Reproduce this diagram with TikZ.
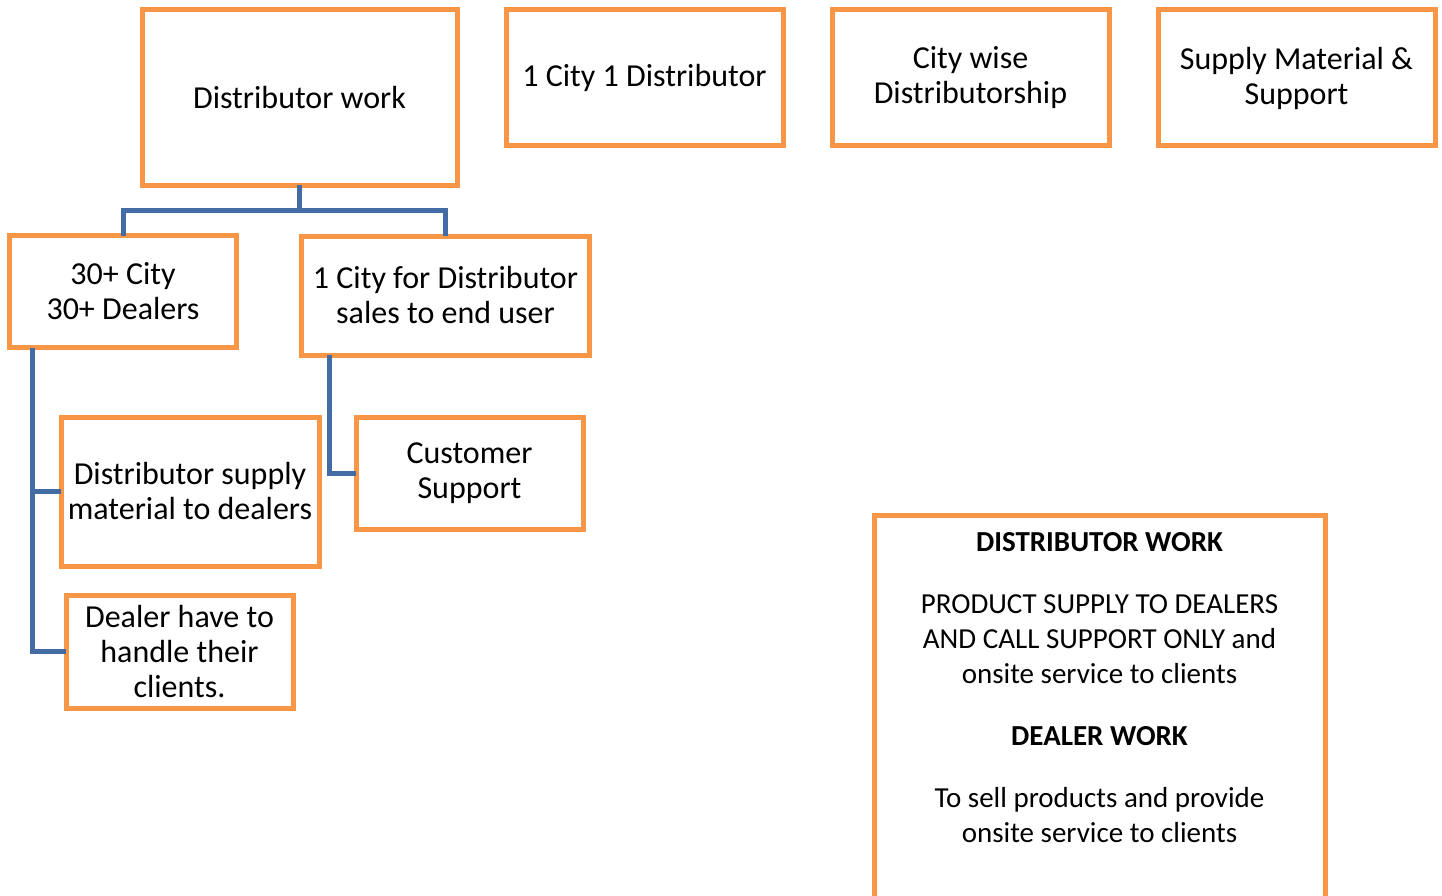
\documentclass[tikz,border=0pt]{standalone}
\usepackage{fontspec}
\setmainfont{Carlito}
\definecolor{boxorange}{RGB}{247,150,70}
\definecolor{linkblue}{RGB}{68,108,164}
\begin{document}
\begin{tikzpicture}[x=1pt,y=-1pt,
  box/.style={draw=boxorange,line width=5pt,rectangle,inner sep=0pt,outer sep=0pt,
    align=center,font=\fontsize{32}{35}\selectfont,text=black},
  link/.style={draw=linkblue,line width=5pt}]
\clip (0,0) rectangle (1442,896);
\fill[white] (0,0) rectangle (1442,896);
% top row
\node[box,minimum width=315pt,minimum height=176pt] (dw) at (299.5,97.5) {Distributor work};
\node[box,minimum width=277pt,minimum height=136pt] (c1) at (644.5,78) {1 City 1 Distributor};
\node[box,minimum width=277pt,minimum height=136pt] (cw) at (970.5,78) {City wise\\Distributorship};
\node[box,minimum width=277pt,minimum height=136pt] (sm) at (1296.5,78) {Supply Material \&\\Support};
% second row
\node[box,minimum width=227pt,minimum height=112pt] (c30) at (123,291.5) {30+ City\\30+ Dealers};
\node[box,minimum width=288pt,minimum height=119pt] (c1d) at (445.5,295.5) {1 City for Distributor\\sales to end user};
% third row
\node[box,minimum width=258pt,minimum height=149pt] (ds) at (190,491.5) {Distributor supply\\material to dealers};
\node[box,minimum width=227pt,minimum height=112pt] (cs) at (469.5,473.5) {Customer\\Support};
\node[box,minimum width=227pt,minimum height=113pt] (dh) at (179.5,651.5) {Dealer have to\\handle their\\clients.};
% legend box
\node[box,minimum width=451pt,minimum height=420pt,anchor=north] (lg) at (1099.5,515.5) {};
\node[anchor=base,align=center,font=\fontsize{29}{35}\selectfont,inner sep=0pt] (lgt) at (1099.5,842)
 {\textbf{DISTRIBUTOR WORK}\\[27pt]
  PRODUCT SUPPLY TO DEALERS\\
  AND CALL SUPPORT ONLY and\\
  onsite service to clients\\[27pt]
  \textbf{DEALER WORK}\\[27pt]
  To sell products and provide\\
  onsite service to clients};
% connectors
\coordinate (j1) at (299.5,210);
\draw[link] (dw.south) -- (j1);
\draw[link] (c30.north) |- (j1) -| (c1d.north);
\draw[link] ([xshift=-91pt]c30.south) |- (ds.west);
\draw[link] ([xshift=-91pt]c30.south) |- (dh.west);
\draw[link] ([xshift=-116pt]c1d.south) |- (cs.west);
\end{tikzpicture}
\end{document}
